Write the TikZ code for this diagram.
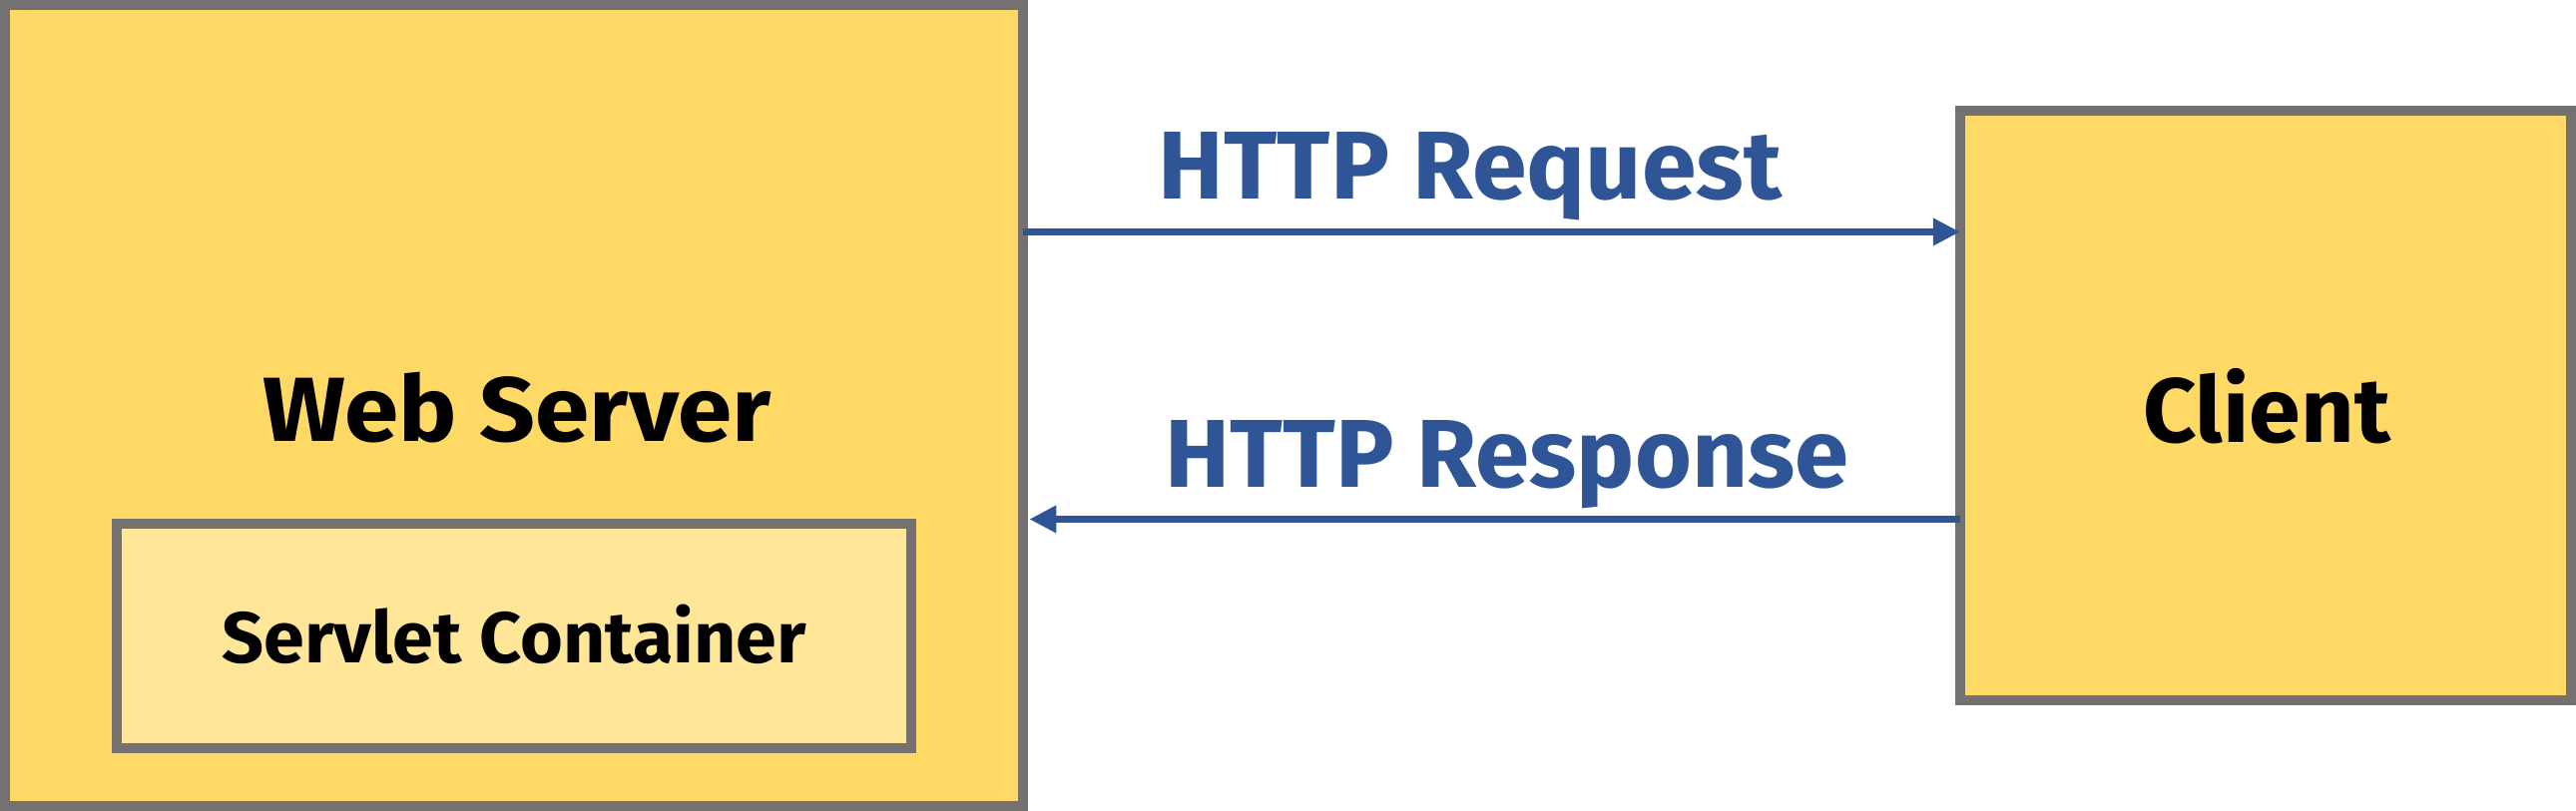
\documentclass[tikz,border=0pt]{standalone}
\usepackage{fontspec}
\setmainfont{Fira Sans}
\usetikzlibrary{arrows.meta}
\definecolor{bordergray}{HTML}{767171}
\definecolor{boxyellow}{HTML}{FFD966}
\definecolor{lightyellow}{HTML}{FFE699}
\definecolor{arrowblue}{HTML}{2F5597}
\tikzset{
  box/.style={draw=bordergray, line width=0.1cm, fill=boxyellow, inner sep=0pt, outer sep=0pt},
  innerbox/.style={box, fill=lightyellow},
  title/.style={anchor=base, inner sep=0pt, font=\bfseries\fontsize{26}{30}\selectfont, text=black},
  sub/.style={anchor=base, inner sep=0pt, font=\bfseries\fontsize{20.5}{25}\selectfont, text=black},
  msg/.style={anchor=base, inner sep=0pt, font=\bfseries\fontsize{27.5}{32}\selectfont, text=arrowblue},
  conn/.style={draw=arrowblue, line width=0.07cm, -{Triangle[length=0.27cm,width=0.26cm]}}
}
\begin{document}
\begin{tikzpicture}[x=0.01cm,y=-0.01cm]
\useasboundingbox (0,0) rectangle (2581,813);
\node[box, minimum width=10.20cm, minimum height=8.03cm] (ws) at (515,406.5) {};
\node[box, minimum width=6.12cm, minimum height=5.91cm] (client) at (2270,406.5) {};
\node[innerbox, minimum width=7.96cm, minimum height=2.25cm] (sc) at (515,637.5) {};
\node[title] (wslabel) at (518,443) {\scalebox{1.07}[1]{Web Server}};
\node[title] (clientlabel) at (2271,444) {\scalebox{1.02}[1]{Client}};
\node[sub] (sclabel) at (515,665) {\scalebox{1.02}[1]{Servlet Container}};
\node[msg] (reqlabel) at (1473,200) {\scalebox{1.02}[1]{HTTP Request}};
\node[msg] (resplabel) at (1510,489) {\scalebox{1.01}[1]{HTTP Response}};
\coordinate (reqy) at (0,232.5);
\coordinate (respy) at (0,520.5);
\draw[conn] (ws.east |- reqy) -- (client.west |- reqy);
\draw[conn, shorten >=0.06cm] (client.west |- respy) -- (ws.east |- respy);
\end{tikzpicture}
\end{document}
